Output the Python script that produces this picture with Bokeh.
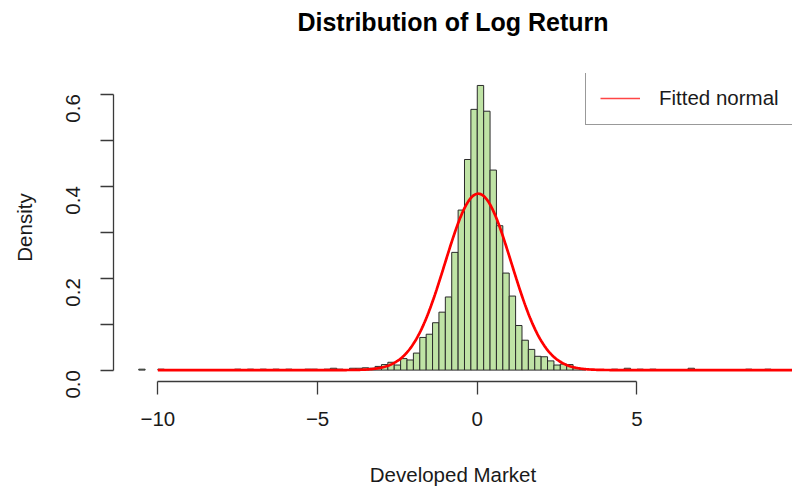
import math
import numpy as np
from bokeh.plotting import figure
from bokeh.models import FixedTicker, PrintfTickFormatter, Legend, LegendItem, ColumnDataSource, Title
from bokeh.embed import file_html
from bokeh.resources import INLINE

# ---- data ----
BIN_WIDTH = 0.2
bin_left = [-10.6, -10.0, -7.6, -7.2, -6.8, -6.4, -6.0, -5.4, -5.2, -4.8, -4.6, -4.4,
            -4.0, -3.8, -3.6, -3.4, -3.2, -3.0, -2.8, -2.6, -2.4, -2.2, -2.0, -1.8,
            -1.6, -1.4, -1.2, -1.0, -0.8, -0.6, -0.4, -0.2, 0.0, 0.2, 0.4, 0.6,
            0.8, 1.0, 1.2, 1.4, 1.6, 1.8, 2.0, 2.2, 2.4, 2.6, 2.8, 3.0,
            3.2, 4.2, 4.6, 5.0, 5.4, 6.6, 8.4, 9.0]
density = [0.002, 0.002, 0.002, 0.002, 0.002, 0.002, 0.002, 0.002, 0.002, 0.002, 0.004, 0.002,
           0.004, 0.004, 0.005, 0.004, 0.008, 0.012, 0.017, 0.011, 0.025, 0.022, 0.037, 0.071,
           0.078, 0.103, 0.126, 0.159, 0.256, 0.348, 0.458, 0.567, 0.619, 0.563, 0.435, 0.314,
           0.211, 0.161, 0.097, 0.065, 0.045, 0.030, 0.029, 0.020, 0.011, 0.013, 0.012, 0.005,
           0.002, 0.002, 0.004, 0.002, 0.002, 0.004, 0.002, 0.002]

FIT_MEAN = 0.03
FIT_SD = 1.04
CURVE_FROM, CURVE_TO = -10.0, 10.0

x_ticks = [-10, -5, 0, 5]
y_ticks = [0.0, 0.2, 0.4, 0.6]
y_minor = [0.1, 0.3, 0.5]

TITLE = "Distribution of Log Return"
XLABEL = "Developed Market"
YLABEL = "Density"
LEGEND_LABEL = "Fitted normal"

# ---- figure ----
FONT = "Liberation Sans"
p = figure(width=792, height=491, x_range=(-11.39, 9.87), y_range=(-0.0248, 0.645),
           output_backend="svg", toolbar_location=None,
           min_border_left=113, min_border_right=0, min_border_top=0, min_border_bottom=110)
p.title.text = TITLE
p.title.align = "center"
p.title.text_font = FONT
p.title.text_font_size = "25px"
p.title.text_font_style = "bold"
p.title.text_color = "black"
p.title.standoff = 10
# blank spacer between the title and the plot area
p.add_layout(Title(text=" ", text_font=FONT, text_font_size="25px", text_font_style="bold",
                   standoff=3), "above")
p.outline_line_color = None
p.grid.visible = False
p.background_fill_color = "white"
p.border_fill_color = "white"

src = ColumnDataSource(dict(left=bin_left,
                            right=[b + BIN_WIDTH for b in bin_left],
                            top=density,
                            bottom=[0.0] * len(density)))
p.quad(left="left", right="right", top="top", bottom="bottom", source=src,
       fill_color="#bfe3a5", line_color="#2a2a2a", line_width=1)

xs = np.linspace(CURVE_FROM, CURVE_TO, 801)
ys = np.exp(-0.5 * ((xs - FIT_MEAN) / FIT_SD) ** 2) / (FIT_SD * math.sqrt(2 * math.pi))
# thin copy used for the legend swatch (hidden beneath the thick curve)
leg_line = p.line(xs, ys, line_color="#ff4545", line_width=1.5)
curve = p.line(xs, ys, line_color="#ff0000", line_width=2.7)

legend = Legend(items=[LegendItem(label=LEGEND_LABEL, renderers=[leg_line])],
                location=(472, 256), orientation="vertical",
                border_line_color="#333333", border_line_width=1.2,
                background_fill_color="white", background_fill_alpha=1,
                label_text_font=FONT, label_text_font_size="20.5px", label_text_color="#1a1a1a",
                glyph_width=40, glyph_height=20, label_height=20, padding=14,
                label_standoff=19, margin=0, spacing=0)
p.add_layout(legend, "center")

# axes
xa = p.xaxis[0]
xa.ticker = FixedTicker(ticks=x_ticks)
xa.bounds = (x_ticks[0], x_ticks[-1])
xa.axis_label = XLABEL
ya = p.yaxis[0]
ya.ticker = FixedTicker(ticks=y_ticks, minor_ticks=y_minor)
ya.formatter = PrintfTickFormatter(format="%.1f")
ya.bounds = (y_ticks[0], y_ticks[-1])
ya.axis_label = YLABEL
ya.major_label_orientation = math.pi / 2

for ax in (xa, ya):
    ax.axis_line_color = "#3a3a3a"
    ax.axis_line_width = 1.3
    ax.major_tick_line_color = "#3a3a3a"
    ax.major_tick_line_width = 1.3
    ax.minor_tick_line_color = "#3a3a3a"
    ax.minor_tick_line_width = 1.3
    ax.major_tick_out = 13
    ax.major_tick_in = 0
    ax.minor_tick_out = 13
    ax.minor_tick_in = 0
    ax.major_label_text_font = FONT
    ax.major_label_text_font_size = "20.5px"
    ax.major_label_text_color = "#1a1a1a"
    ax.axis_label_text_font = FONT
    ax.axis_label_text_font_size = "20.5px"
    ax.axis_label_text_font_style = "normal"
    ax.axis_label_text_color = "#1a1a1a"

xa.major_label_standoff = 17
xa.axis_label_standoff = 34
ya.major_label_standoff = 27
ya.axis_label_standoff = 21

open("out.html", "w").write(file_html(p, INLINE))
